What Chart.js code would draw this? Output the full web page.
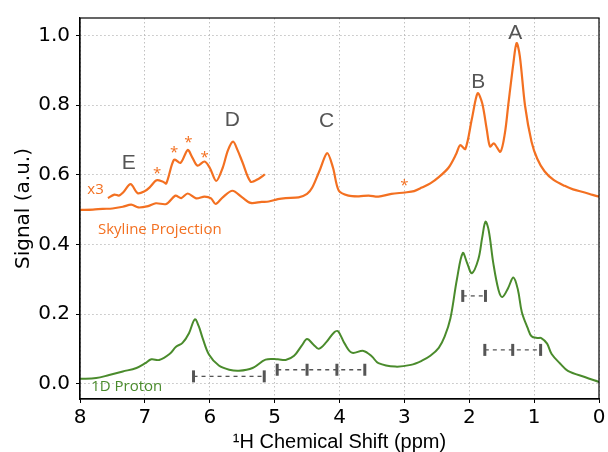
<!DOCTYPE html>
<html>
<head>
<meta charset="utf-8">
<script src="https://cdn.jsdelivr.net/npm/chart.js@4/dist/chart.umd.min.js"></script>
<style>
  html, body { margin: 0; padding: 0; background: #fff; }
  #wrap { width: 608px; height: 452px; }
</style>
</head>
<body>
<div id="wrap"><canvas id="nmr"></canvas></div>
<script>
// Skyline projection (orange), ppm and signal
const skylinePpm = [8.00, 7.80, 7.65, 7.50, 7.34, 7.21, 7.10, 6.95, 6.83, 6.67, 6.53, 6.44, 6.34, 6.21, 6.08, 5.98, 5.91, 5.80, 5.65, 5.50, 5.37, 5.20, 5.09, 4.95, 4.83, 4.63, 4.50, 4.42, 4.30, 4.19, 4.10, 4.01, 3.86, 3.70, 3.55, 3.40, 3.20, 2.99, 2.85, 2.73, 2.60, 2.47, 2.32, 2.20, 2.14, 2.06, 1.96, 1.87, 1.80, 1.73, 1.68, 1.62, 1.52, 1.45, 1.40, 1.32, 1.27, 1.22, 1.14, 1.04, 0.95, 0.84, 0.70, 0.53, 0.40, 0.22, 0.10, 0.00];
const skylineVal = [0.499, 0.500, 0.502, 0.503, 0.508, 0.514, 0.506, 0.510, 0.518, 0.516, 0.540, 0.533, 0.546, 0.532, 0.537, 0.532, 0.516, 0.535, 0.554, 0.535, 0.519, 0.522, 0.523, 0.530, 0.533, 0.535, 0.545, 0.563, 0.615, 0.662, 0.620, 0.554, 0.540, 0.538, 0.540, 0.537, 0.545, 0.549, 0.553, 0.563, 0.575, 0.593, 0.620, 0.660, 0.685, 0.674, 0.760, 0.834, 0.805, 0.730, 0.681, 0.690, 0.666, 0.720, 0.798, 0.920, 0.978, 0.940, 0.798, 0.695, 0.645, 0.610, 0.585, 0.568, 0.558, 0.549, 0.542, 0.537];

// x3 zoomed part of the projection
const zoomPpm = [7.57, 7.47, 7.40, 7.34, 7.22, 7.11, 7.00, 6.93, 6.82, 6.72, 6.67, 6.55, 6.45, 6.34, 6.27, 6.19, 6.08, 6.00, 5.90, 5.80, 5.72, 5.64, 5.57, 5.50, 5.37, 5.25, 5.15];
const zoomVal = [0.533, 0.543, 0.540, 0.548, 0.573, 0.547, 0.553, 0.563, 0.584, 0.580, 0.575, 0.643, 0.634, 0.671, 0.650, 0.626, 0.638, 0.620, 0.582, 0.620, 0.670, 0.695, 0.670, 0.638, 0.580, 0.588, 0.601];

// 1D proton spectrum (green)
const protonPpm = [8.00, 7.75, 7.55, 7.34, 7.13, 7.00, 6.90, 6.78, 6.62, 6.52, 6.42, 6.32, 6.23, 6.17, 6.11, 6.01, 5.86, 5.70, 5.55, 5.34, 5.14, 4.95, 4.83, 4.70, 4.58, 4.50, 4.40, 4.32, 4.20, 4.08, 4.02, 3.92, 3.81, 3.63, 3.50, 3.40, 3.14, 2.90, 2.73, 2.60, 2.47, 2.38, 2.29, 2.19, 2.10, 2.03, 1.96, 1.86, 1.80, 1.75, 1.70, 1.63, 1.55, 1.49, 1.40, 1.32, 1.25, 1.19, 1.10, 1.04, 0.95, 0.89, 0.80, 0.73, 0.60, 0.48, 0.22, 0.00];
const protonVal = [0.014, 0.016, 0.025, 0.035, 0.045, 0.058, 0.070, 0.068, 0.085, 0.106, 0.117, 0.145, 0.185, 0.165, 0.131, 0.083, 0.052, 0.040, 0.037, 0.045, 0.069, 0.070, 0.068, 0.080, 0.110, 0.128, 0.112, 0.100, 0.120, 0.148, 0.150, 0.115, 0.089, 0.094, 0.078, 0.059, 0.049, 0.054, 0.066, 0.080, 0.103, 0.135, 0.188, 0.300, 0.375, 0.345, 0.317, 0.357, 0.420, 0.465, 0.440, 0.347, 0.270, 0.249, 0.275, 0.305, 0.270, 0.206, 0.160, 0.136, 0.131, 0.131, 0.115, 0.085, 0.058, 0.037, 0.019, 0.005];

// multiplet brackets: tick positions (ppm) and height
const bracketPpm = [[6.25, 5.16], [4.96, 4.50, 4.04, 3.61], [2.10, 1.75], [1.76, 1.33, 0.90]];
const bracketVal = [0.021, 0.040, 0.252, 0.097];

const yTicks = [0.0, 0.2, 0.4, 0.6, 0.8, 1.0];
const xTicks = [0, 1, 2, 3, 4, 5, 6, 7, 8];

// text labels in data coordinates
const notes = [
    {text: 'A', x: 1.29, y: 1.006, kind: 'peak'},
    {text: 'B', x: 1.86, y: 0.866, kind: 'peak'},
    {text: 'C', x: 4.20, y: 0.753, kind: 'peak'},
    {text: 'D', x: 5.65, y: 0.756, kind: 'peak'},
    {text: 'E', x: 7.25, y: 0.632, kind: 'peak'},
    {text: '*', x: 6.81, y: 0.604, kind: 'star'},
    {text: '*', x: 6.55, y: 0.663, kind: 'star'},
    {text: '*', x: 6.33, y: 0.691, kind: 'star'},
    {text: '*', x: 6.08, y: 0.649, kind: 'star'},
    {text: '*', x: 3.00, y: 0.568, kind: 'star'},
    {text: 'x3', x: 7.76, y: 0.556, kind: 'orange'},
    {text: 'Skyline Projection', x: 6.77, y: 0.443, kind: 'orange'},
    {text: '1D Proton', x: 7.28, y: -0.010, kind: 'green'}
];

const orange = '#F37021';
const green = '#4A8B2C';
const bracketGray = '#555555';

const noteStyle = {
    peak: {color: '#555555', font: '21px "Liberation Sans", Arial, sans-serif'},
    star: {color: orange, font: '15px "Open Sans", sans-serif'},
    orange: {color: orange, font: '15px "Open Sans", sans-serif'},
    green: {color: green, font: '15px "Open Sans", sans-serif'}
};

const toPoints = (xs, ys) => xs.map((x, i) => ({x: x, y: ys[i]}));

const datasets = [
    {data: toPoints(skylinePpm, skylineVal), borderColor: orange, borderWidth: 2.2, tension: 0.3},
    {data: toPoints(zoomPpm, zoomVal), borderColor: orange, borderWidth: 2.2, tension: 0.3},
    {data: toPoints(protonPpm, protonVal), borderColor: green, borderWidth: 2, tension: 0.35}
];

bracketPpm.forEach((xs, i) => {
    datasets.push({
        data: xs.map(x => ({x: x, y: bracketVal[i]})),
        borderColor: bracketGray,
        borderWidth: 1.3,
        borderDash: [4, 4],
        tension: 0,
        pointStyle: 'line',
        rotation: 90,
        pointRadius: 6,
        pointBorderWidth: 3,
        pointBorderColor: bracketGray
    });
});

// full box round the plot area
const frame = {
    id: 'frame',
    afterDatasetsDraw(chart) {
        const {ctx, chartArea: a} = chart;
        ctx.save();
        ctx.strokeStyle = '#000';
        ctx.lineWidth = 1.2;
        ctx.strokeRect(a.left, a.top, a.right - a.left, a.bottom - a.top);
        ctx.restore();
    }
};

// text notes
const noteLabels = {
    id: 'noteLabels',
    afterDatasetsDraw(chart) {
        const {ctx, scales} = chart;
        ctx.save();
        ctx.textAlign = 'center';
        ctx.textBaseline = 'middle';
        notes.forEach(n => {
            const st = noteStyle[n.kind];
            ctx.fillStyle = st.color;
            ctx.font = st.font;
            ctx.fillText(n.text, scales.x.getPixelForValue(n.x), scales.y.getPixelForValue(n.y));
        });
        ctx.restore();
    }
};

const gridStyle = {
    color: '#b0b0b0',
    lineWidth: 0.8,
    tickLength: 4,
    tickColor: '#000',
    tickWidth: 1,
    tickBorderDash: []
};

// in v4 border.dash sets the grid line dash
const borderStyle = {display: true, color: '#000', width: 1.2, dash: [1.5, 2.5]};

new Chart(document.getElementById('nmr'), {
    type: 'line',
    data: {datasets: datasets},
    options: {
        responsive: true,
        maintainAspectRatio: false,
        animation: false,
        devicePixelRatio: 1,
        layout: {padding: {top: 11, right: 7, left: 0, bottom: 0}},
        elements: {point: {radius: 0}},
        plugins: {legend: {display: false}, tooltip: {enabled: false}},
        scales: {
            x: {
                type: 'linear',
                reverse: true,
                min: 0,
                max: 8,
                afterBuildTicks: s => { s.ticks = xTicks.map(v => ({value: v})); },
                afterFit: s => { s.height = 53; },
                grid: gridStyle,
                border: borderStyle,
                ticks: {
                    color: '#000',
                    padding: 3,
                    maxRotation: 0,
                    font: {family: '"DejaVu Sans"', size: 20},
                    callback: v => String(v)
                },
                title: {
                    display: true,
                    text: '\u00b9H Chemical Shift (ppm)',
                    color: '#000',
                    padding: {top: 0, bottom: 0},
                    font: {family: '"Liberation Sans"', size: 20, lineHeight: 1}
                }
            },
            y: {
                type: 'linear',
                min: -0.044,
                max: 1.05,
                afterBuildTicks: s => { s.ticks = yTicks.map(v => ({value: v})); },
                afterFit: s => { s.width = 80; },
                grid: gridStyle,
                border: borderStyle,
                ticks: {
                    color: '#000',
                    padding: 6,
                    font: {family: '"DejaVu Sans"', size: 20},
                    callback: v => v.toFixed(1)
                },
                title: {
                    display: true,
                    text: 'Signal (a.u.)',
                    color: '#000',
                    padding: {top: 14, bottom: 0},
                    font: {family: '"DejaVu Sans"', size: 20, lineHeight: 1}
                }
            }
        }
    },
    plugins: [frame, noteLabels]
});
</script>
</body>
</html>
